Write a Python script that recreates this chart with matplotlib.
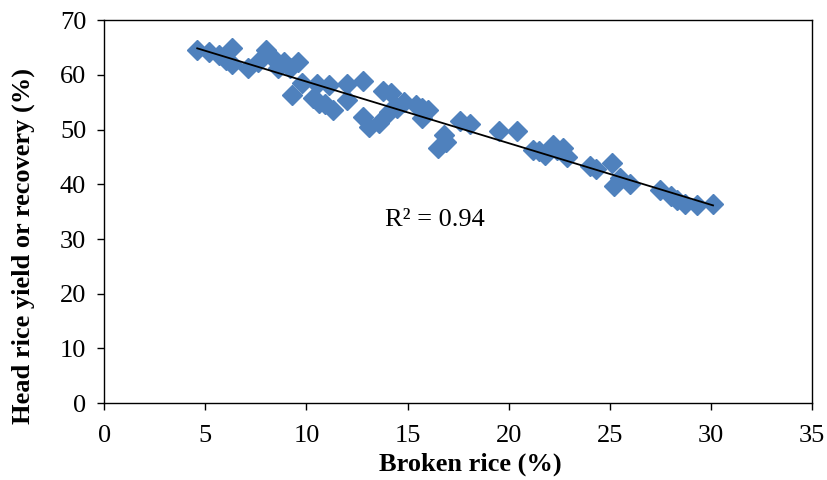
import numpy as np
import matplotlib.pyplot as plt

plt.rcParams['font.family'] = ['Liberation Serif', 'DejaVu Serif']

# broken rice (%) vs head rice yield (%)
broken = [4.6, 5.2, 5.7, 6.0, 6.3, 6.3, 7.1, 7.6, 8.0, 8.35, 8.6, 8.9, 9.2,
          9.3, 9.6, 9.8, 10.3, 10.5, 10.6, 10.9, 11.1, 11.3, 12.0, 12.0,
          12.8, 12.8, 13.1, 13.6, 13.8, 14.2, 14.1, 14.5, 14.8, 15.4, 15.7,
          15.7, 16.0, 16.5, 16.8, 16.9, 17.6, 18.1, 19.5, 20.4, 21.2, 21.5,
          21.8, 22.2, 22.4, 22.7, 22.9, 24.0, 24.3, 25.1, 25.2, 25.5, 26.0,
          27.5, 28.0, 28.3, 28.7, 29.3, 30.1]
head = [64.5, 64.2, 63.6, 62.8, 64.9, 62.0, 61.2, 62.3, 64.5, 63.0, 61.2,
        62.3, 61.3, 56.3, 62.3, 58.5, 55.7, 58.3, 54.8, 54.6, 58.1, 53.6,
        58.3, 55.4, 58.9, 52.3, 50.5, 51.2, 57.0, 56.7, 53.2, 54.0, 55.0,
        54.5, 54.0, 52.1, 53.6, 46.6, 49.0, 47.7, 51.6, 51.0, 49.7, 49.7,
        46.3, 46.0, 45.3, 47.2, 46.3, 46.6, 45.0, 43.3, 42.8, 43.9, 39.7,
        41.1, 40.0, 38.9, 37.8, 37.1, 36.4, 36.2, 36.4]

fig = plt.figure(figsize=(8.27, 4.8), dpi=100)
ax = fig.add_axes([0.126, 0.16, 0.856, 0.798])

ax.plot(broken, head, linestyle='none', marker='D', markersize=10.5,
        color='#4F81BD', markeredgecolor='#4F81BD', zorder=2)

# linear trendline
b = np.array(broken)
coef = np.polyfit(b, head, 1)
xs = np.array([b.min(), b.max()])
ax.plot(xs, np.polyval(coef, xs), color='black', linewidth=1.3, zorder=3)

ax.text(13.9, 33.5, 'R² = 0.94', fontsize=19, ha='left', va='center')

ax.set_xlim(0, 35)
ax.set_ylim(0, 70)
ax.set_xticks(range(0, 36, 5))
ax.set_yticks(range(0, 71, 10))
ax.tick_params(direction='out', length=5, labelsize=19, width=1)
ax.tick_params(axis='x', pad=11)
ax.tick_params(axis='y', pad=8)
ax.set_xlabel('Broken rice (%)', fontsize=19, fontweight='bold')
ax.set_ylabel('Head rice yield or recovery (%)', fontsize=19,
              fontweight='bold')
ax.xaxis.set_label_coords(0.517, -0.13)
ax.yaxis.set_label_coords(-0.098, 0.41)
for s in ax.spines.values():
    s.set_color('black')
    s.set_linewidth(1)

fig.savefig('out.png', dpi=100)
